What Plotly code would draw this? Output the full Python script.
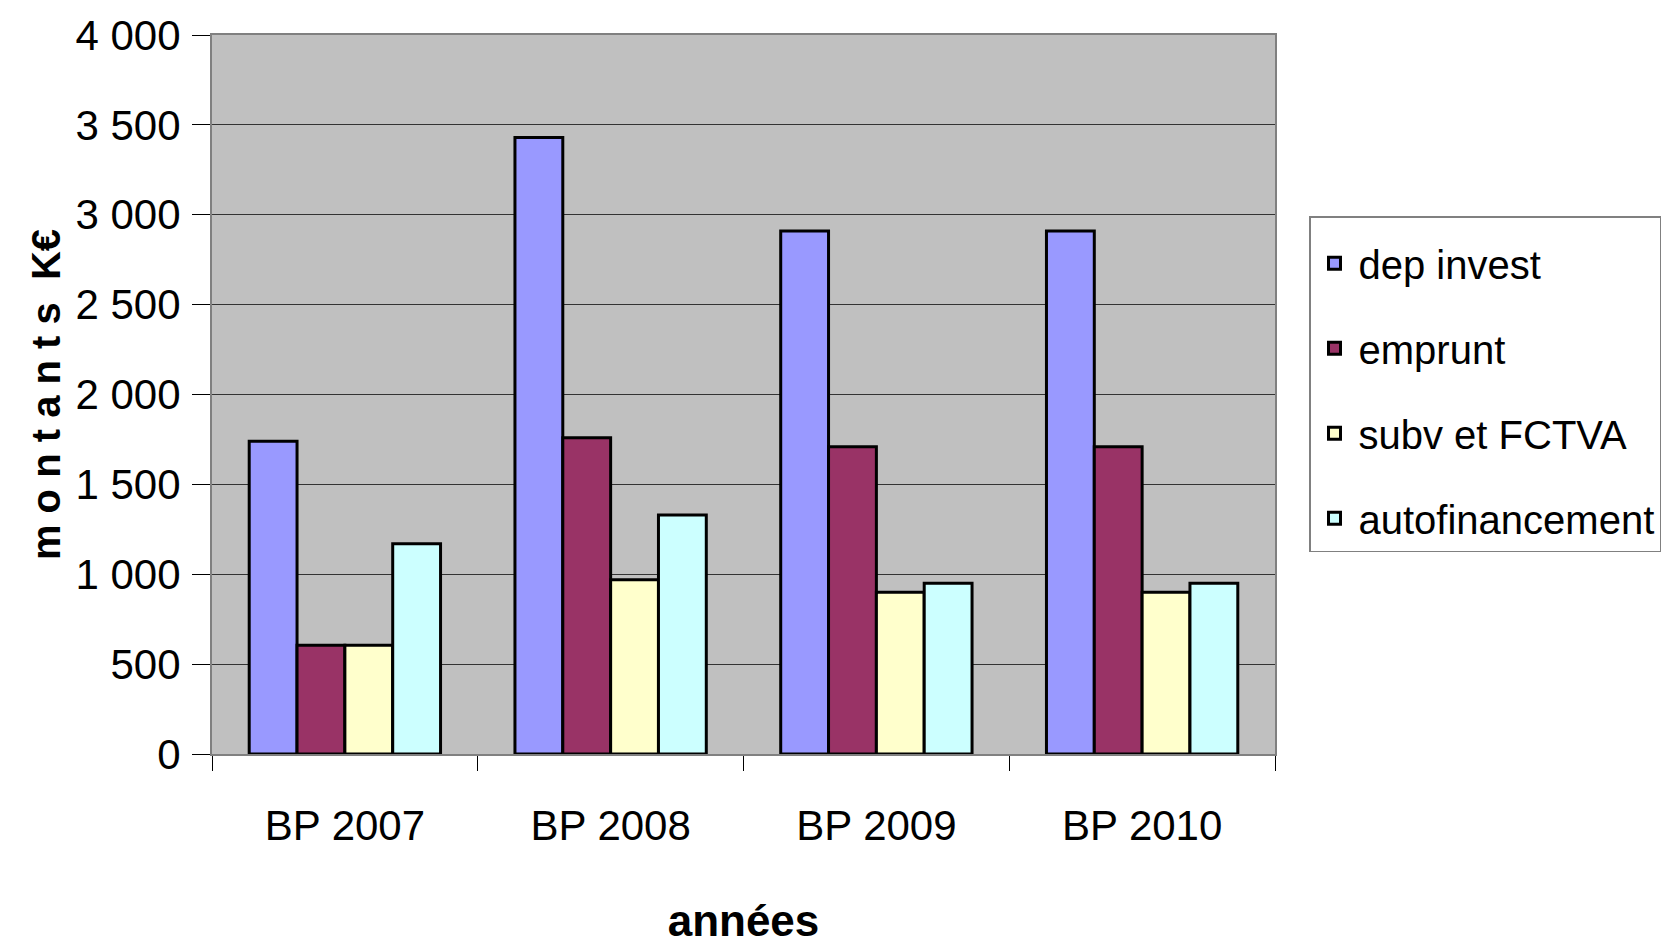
import plotly.graph_objects as go

categories = ["BP 2007", "BP 2008", "BP 2009", "BP 2010"]
series_names = ["dep invest", "emprunt", "subv et FCTVA", "autofinancement"]
dep_invest = [1740, 3430, 2910, 2910]
emprunt = [605, 1760, 1710, 1710]
subv_fctva = [605, 970, 900, 900]
autofinancement = [1170, 1330, 950, 950]
colors = ["#9999FF", "#993366", "#FFFFCC", "#CCFFFF"]
y_ticks = [0, 500, 1000, 1500, 2000, 2500, 3000, 3500, 4000]
y_tick_labels = ["0", "500", "1 000", "1 500", "2 000", "2 500", "3 000", "3 500", "4 000"]

values = [dep_invest, emprunt, subv_fctva, autofinancement]

fig = go.Figure()
for i, (name, vals) in enumerate(zip(series_names, values)):
    fig.add_trace(go.Bar(
        x=categories, y=vals, name=name,
        marker=dict(color=colors[i], line=dict(color="black", width=3)),
        legendgroup=name,
    ))

regular = "Liberation Sans, Arial, sans-serif"

fig.update_layout(
    width=1669, height=945,
    barmode="group", bargap=0.28, bargroupgap=0,
    plot_bgcolor="#C0C0C0", paper_bgcolor="white",
    margin=dict(l=212, r=394, t=35, b=191, autoexpand=False),
    showlegend=True,
    legend=dict(
        x=1.032, y=0.748, xanchor="left", yanchor="top",
        bgcolor="white", bordercolor="#808080", borderwidth=1.5,
        font=dict(family=regular, size=40, color="black"),
        title=dict(text=" ", font=dict(size=10)),
        traceorder="grouped", tracegroupgap=30,
        itemwidth=38,
    ),
    xaxis=dict(
        title=dict(text="<b>années</b>", font=dict(family=regular, size=44, color="black"), standoff=57),
        tickfont=dict(family=regular, size=42, color="black"),
        ticks="outside", tickson="boundaries", ticklen=15, tickcolor="black", tickwidth=1,
        ticklabelstandoff=34, automargin=False,
        showline=True, linecolor="#808080", linewidth=2, mirror=True,
        showgrid=False,
    ),
    yaxis=dict(
        title=dict(text="<b>m o n t a n t s  K€</b>", font=dict(family=regular, size=40, color="black"), standoff=2),
        range=[0, 4000], tickvals=y_ticks, ticktext=y_tick_labels,
        tickfont=dict(family=regular, size=42, color="black"),
        ticks="outside", ticklen=18, tickcolor="black",
        ticklabelstandoff=3, automargin=False,
        showline=True, linecolor="#808080", linewidth=2, mirror=True,
        showgrid=True, gridcolor="#333333", gridwidth=1.2,
        zeroline=False,
    ),
)

fig.write_html(
    "out.html",
    config={"displayModeBar": False},
    post_script="document.body.style.margin='0';document.body.style.overflow='hidden';",
)
